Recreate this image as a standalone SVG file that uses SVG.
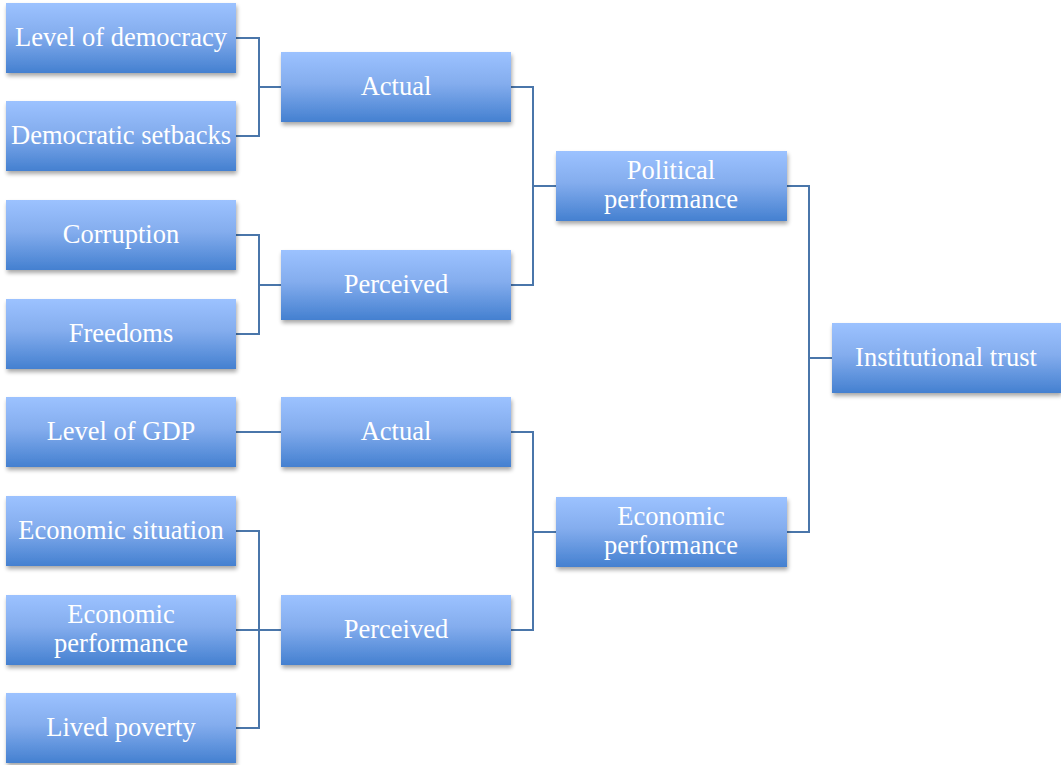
<svg xmlns="http://www.w3.org/2000/svg" width="1061" height="765" viewBox="0 0 1061 765">
<style>
.box{fill:url(#g);filter:url(#sh)}
.t{font-family:'Liberation Serif','Times New Roman',serif;font-size:26.5px;fill:#ffffff;text-anchor:middle}
.c{fill:none;stroke:#4a76aa;stroke-width:2}
</style>
<defs>
<linearGradient id="g" x1="0" y1="0" x2="0" y2="1">
<stop offset="0" stop-color="#9cc2ff"/>
<stop offset="0.45" stop-color="#84adee"/>
<stop offset="1" stop-color="#4480d0"/>
</linearGradient>
<filter id="sh" x="-10%" y="-10%" width="120%" height="130%">
<feGaussianBlur in="SourceAlpha" stdDeviation="2"/>
<feOffset dx="1" dy="3" result="b"/>
<feComponentTransfer><feFuncA type="linear" slope="0.35"/></feComponentTransfer>
<feMerge><feMergeNode/><feMergeNode in="SourceGraphic"/></feMerge>
</filter>
</defs>
<rect width="1061" height="765" fill="#ffffff"/>
<g id="connectors">
<path class="c" d="M236 38H259V136H236M259 87H281"/>
<path class="c" d="M236 235H259V334H236M259 285H281"/>
<path class="c" d="M236 432H281"/>
<path class="c" d="M236 531H259V728H236M236 630H281"/>
<path class="c" d="M511 87H533V285H511M533 186H556"/>
<path class="c" d="M511 432H533V630H511M533 532H556"/>
<path class="c" d="M787 186H809V532H787M809 358H832"/>
</g>
<g id="n1"><rect class="box" x="6" y="3" width="230" height="70"/><text class="t" x="121" y="46">Level of democracy</text></g>
<g id="n2"><rect class="box" x="6" y="101" width="230" height="70"/><text class="t" x="121" y="144">Democratic setbacks</text></g>
<g id="n3"><rect class="box" x="6" y="200" width="230" height="70"/><text class="t" x="121" y="243">Corruption</text></g>
<g id="n4"><rect class="box" x="6" y="299" width="230" height="70"/><text class="t" x="121" y="342">Freedoms</text></g>
<g id="n5"><rect class="box" x="6" y="397" width="230" height="70"/><text class="t" x="121" y="440">Level of GDP</text></g>
<g id="n6"><rect class="box" x="6" y="496" width="230" height="70"/><text class="t" x="121" y="539">Economic situation</text></g>
<g id="n7"><rect class="box" x="6" y="595" width="230" height="70"/><text class="t" x="121" y="623">Economic</text><text class="t" x="121" y="652">performance</text></g>
<g id="n8"><rect class="box" x="6" y="693" width="230" height="70"/><text class="t" x="121" y="736">Lived poverty</text></g>
<g id="m1"><rect class="box" x="281" y="52" width="230" height="70"/><text class="t" x="396" y="95">Actual</text></g>
<g id="m2"><rect class="box" x="281" y="250" width="230" height="70"/><text class="t" x="396" y="293">Perceived</text></g>
<g id="m3"><rect class="box" x="281" y="397" width="230" height="70"/><text class="t" x="396" y="440">Actual</text></g>
<g id="m4"><rect class="box" x="281" y="595" width="230" height="70"/><text class="t" x="396" y="638">Perceived</text></g>
<g id="p1"><rect class="box" x="556" y="151" width="231" height="70"/><text class="t" x="671" y="179">Political</text><text class="t" x="671" y="208">performance</text></g>
<g id="p2"><rect class="box" x="556" y="497" width="231" height="70"/><text class="t" x="671" y="525">Economic</text><text class="t" x="671" y="554">performance</text></g>
<g id="it"><rect class="box" x="832" y="323" width="229" height="70"/><text class="t" x="946" y="366">Institutional trust</text></g>
</svg>
